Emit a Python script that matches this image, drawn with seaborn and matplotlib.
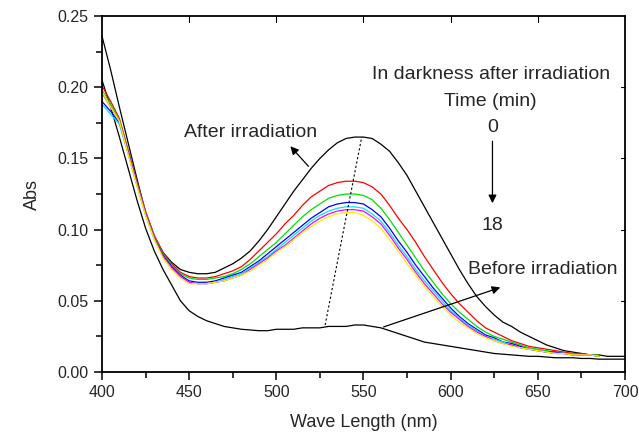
import matplotlib
matplotlib.use('Agg')
import matplotlib.pyplot as plt
import seaborn as sns
from matplotlib.ticker import MultipleLocator, FormatStrFormatter

# wavelength grid (nm), 5 nm steps
wl = [400, 405, 410, 415, 420, 425, 430, 435, 440, 445, 450, 455, 460, 465, 470, 475,
      480, 485, 490, 495, 500, 505, 510, 515, 520, 525, 530, 535, 540, 545, 550, 555,
      560, 565, 570, 575, 580, 585, 590, 595, 600, 605, 610, 615, 620, 625, 630, 635,
      640, 645, 650, 655, 660, 665, 670, 675, 680, 685, 690, 695, 700]

after = [0.236, 0.212, 0.186, 0.161, 0.136, 0.112, 0.095, 0.084, 0.077, 0.072, 0.070, 0.069,
         0.069, 0.070, 0.073, 0.076, 0.080, 0.085, 0.092, 0.100, 0.109, 0.118, 0.127, 0.135,
         0.143, 0.150, 0.156, 0.161, 0.164, 0.165, 0.165, 0.164, 0.160, 0.155, 0.147, 0.138,
         0.127, 0.116, 0.105, 0.094, 0.083, 0.072, 0.062, 0.053, 0.046, 0.040, 0.035, 0.032,
         0.028, 0.025, 0.022, 0.019, 0.017, 0.015, 0.014, 0.013, 0.012, 0.012, 0.011, 0.011,
         0.011]

before = [0.205, 0.186, 0.165, 0.143, 0.121, 0.101, 0.085, 0.072, 0.061, 0.050, 0.043, 0.039,
          0.036, 0.034, 0.032, 0.031, 0.030, 0.0295, 0.029, 0.029, 0.030, 0.030, 0.030, 0.031,
          0.031, 0.031, 0.032, 0.032, 0.032, 0.033, 0.033, 0.032, 0.031, 0.029, 0.027, 0.025,
          0.023, 0.021, 0.020, 0.019, 0.018, 0.017, 0.016, 0.015, 0.014, 0.013, 0.0125, 0.012,
          0.0115, 0.011, 0.011, 0.0105, 0.010, 0.010, 0.010, 0.0095, 0.0095, 0.009, 0.009, 0.009,
          0.009]

# in darkness after irradiation, 0 -> 18 min (400-685 nm)
red = [0.201, 0.190, 0.178, 0.156, 0.134, 0.113, 0.096, 0.084, 0.076, 0.070, 0.067, 0.066,
       0.066, 0.067, 0.069, 0.071, 0.074, 0.079, 0.085, 0.091, 0.097, 0.104, 0.110, 0.117,
       0.123, 0.127, 0.131, 0.133, 0.134, 0.134, 0.133, 0.130, 0.125, 0.117, 0.108, 0.100,
       0.091, 0.081, 0.072, 0.063, 0.055, 0.048, 0.042, 0.036, 0.031, 0.028, 0.025, 0.022,
       0.020, 0.018, 0.017, 0.016, 0.015, 0.014, 0.013, 0.013, 0.012, 0.012]
green = [0.198, 0.188, 0.177, 0.155, 0.133, 0.112, 0.095, 0.083, 0.075, 0.069, 0.066, 0.065,
         0.065, 0.066, 0.067, 0.069, 0.072, 0.076, 0.081, 0.086, 0.091, 0.097, 0.103, 0.109,
         0.114, 0.118, 0.122, 0.124, 0.125, 0.125, 0.124, 0.121, 0.115, 0.107, 0.098, 0.089,
         0.080, 0.071, 0.063, 0.055, 0.048, 0.042, 0.037, 0.032, 0.028, 0.025, 0.023, 0.021,
         0.019, 0.017, 0.016, 0.015, 0.014, 0.013, 0.013, 0.012, 0.012, 0.012]
blue = [0.190, 0.183, 0.175, 0.154, 0.132, 0.111, 0.094, 0.082, 0.074, 0.068, 0.064, 0.063,
        0.063, 0.064, 0.066, 0.068, 0.070, 0.074, 0.078, 0.083, 0.088, 0.093, 0.098, 0.103,
        0.108, 0.112, 0.116, 0.118, 0.119, 0.119, 0.118, 0.114, 0.109, 0.101, 0.092, 0.084,
        0.075, 0.067, 0.059, 0.052, 0.045, 0.039, 0.034, 0.030, 0.026, 0.024, 0.021, 0.020,
        0.018, 0.016, 0.015, 0.014, 0.014, 0.013, 0.012, 0.012, 0.012, 0.011]
cyan = [0.188, 0.181, 0.174, 0.153, 0.131, 0.110, 0.093, 0.081, 0.073, 0.067, 0.063, 0.062,
        0.062, 0.063, 0.065, 0.067, 0.069, 0.073, 0.077, 0.081, 0.086, 0.091, 0.096, 0.101,
        0.106, 0.110, 0.113, 0.115, 0.116, 0.116, 0.115, 0.111, 0.106, 0.098, 0.089, 0.081,
        0.072, 0.064, 0.057, 0.050, 0.043, 0.038, 0.033, 0.029, 0.025, 0.023, 0.021, 0.019,
        0.017, 0.016, 0.015, 0.014, 0.013, 0.013, 0.012, 0.012, 0.012, 0.011]
magenta = [0.196, 0.186, 0.176, 0.154, 0.132, 0.111, 0.094, 0.081, 0.073, 0.067, 0.063, 0.062,
           0.062, 0.063, 0.064, 0.066, 0.068, 0.072, 0.076, 0.080, 0.085, 0.089, 0.094, 0.099,
           0.104, 0.108, 0.111, 0.113, 0.114, 0.114, 0.113, 0.109, 0.104, 0.096, 0.087, 0.079,
           0.070, 0.062, 0.055, 0.048, 0.042, 0.037, 0.032, 0.028, 0.025, 0.022, 0.020, 0.019,
           0.017, 0.016, 0.015, 0.014, 0.013, 0.013, 0.012, 0.012, 0.012, 0.011]
yellow = [0.197, 0.186, 0.176, 0.153, 0.131, 0.110, 0.093, 0.080, 0.072, 0.066, 0.062, 0.062,
          0.062, 0.063, 0.064, 0.066, 0.068, 0.071, 0.075, 0.079, 0.084, 0.088, 0.093, 0.098,
          0.102, 0.106, 0.109, 0.111, 0.112, 0.112, 0.110, 0.106, 0.101, 0.093, 0.085, 0.076,
          0.068, 0.060, 0.053, 0.046, 0.040, 0.035, 0.031, 0.027, 0.024, 0.022, 0.020, 0.018,
          0.017, 0.016, 0.015, 0.014, 0.013, 0.013, 0.012, 0.012, 0.012, 0.011]

dark_series = [red, green, blue, cyan, magenta, yellow]
dark_colors = ['#ff0000', '#00e000', '#0000ff', '#00e5ff', '#ff00ff', '#ffee00']

sns.set_style('ticks')
plt.rcParams['font.family'] = ['Liberation Sans', 'DejaVu Sans']

fig = plt.figure(figsize=(6.39, 4.34), dpi=100)
ax = fig.add_axes([0.1596, 0.1429, 0.8184, 0.8201])

sns.lineplot(x=wl, y=after, color='black', lw=0.9, ax=ax)
sns.lineplot(x=wl, y=before, color='black', lw=0.9, ax=ax)
for vals, c in zip(dark_series, dark_colors):
    sns.lineplot(x=wl[:len(vals)], y=vals, color=c, lw=0.9, ax=ax)

# peak-shift guide
ax.plot([528, 549], [0.033, 0.165], color='black', ls=(0, (2, 2)), lw=0.8)

fs = 14
arr = dict(arrowstyle='-|>', color='black', lw=0.9, mutation_scale=12)
ax.annotate('', xy=(507, 0.160), xytext=(519.5, 0.143), arrowprops=arr)
ax.text(485, 0.168, 'After irradiation', fontsize=fs, ha='center', va='center')

ax.text(623, 0.2086, 'In darkness after irradiation', fontsize=fs, ha='center', va='center')
ax.text(623, 0.190, 'Time (min)', fontsize=fs, ha='center', va='center')
ax.text(624, 0.172, '0', fontsize=fs, ha='center', va='center')
ax.annotate('', xy=(624, 0.1166), xytext=(624, 0.164), arrowprops=arr)
ax.text(624, 0.103, '18', fontsize=fs, ha='center', va='center')

ax.annotate('', xy=(630, 0.060), xytext=(560, 0.031), arrowprops=arr)
ax.text(653, 0.072, 'Before irradiation', fontsize=fs, ha='center', va='center')

ax.set_xlim(400, 700)
ax.set_ylim(0, 0.25)
ax.xaxis.set_major_locator(MultipleLocator(50))
ax.xaxis.set_minor_locator(MultipleLocator(25))
ax.yaxis.set_major_locator(MultipleLocator(0.05))
ax.yaxis.set_minor_locator(MultipleLocator(0.025))
ax.yaxis.set_major_formatter(FormatStrFormatter('%.2f'))

ax.tick_params(which='both', direction='out', top=False, right=False, labelsize=11.5, width=1.1, color='black')
ax.tick_params(which='major', length=6)
ax.tick_params(which='minor', length=4)
for s in ax.spines.values():
    s.set_linewidth(1.3)
    s.set_color('black')

# mirrored inward ticks on top and right
for pos in [450, 500, 550, 600, 650]:
    ax.plot([pos, pos], [0.25, 0.25 - 0.004], color='black', lw=0.8, clip_on=False)
for pos in [0.05, 0.10, 0.15, 0.20]:
    ax.plot([700 - 2.5, 700], [pos, pos], color='black', lw=0.8, clip_on=False)

ax.set_xlabel('Wave Length (nm)', fontsize=13, labelpad=10)
ax.set_ylabel('Abs', fontsize=13, labelpad=12)

fig.savefig('out.png', dpi=100)
